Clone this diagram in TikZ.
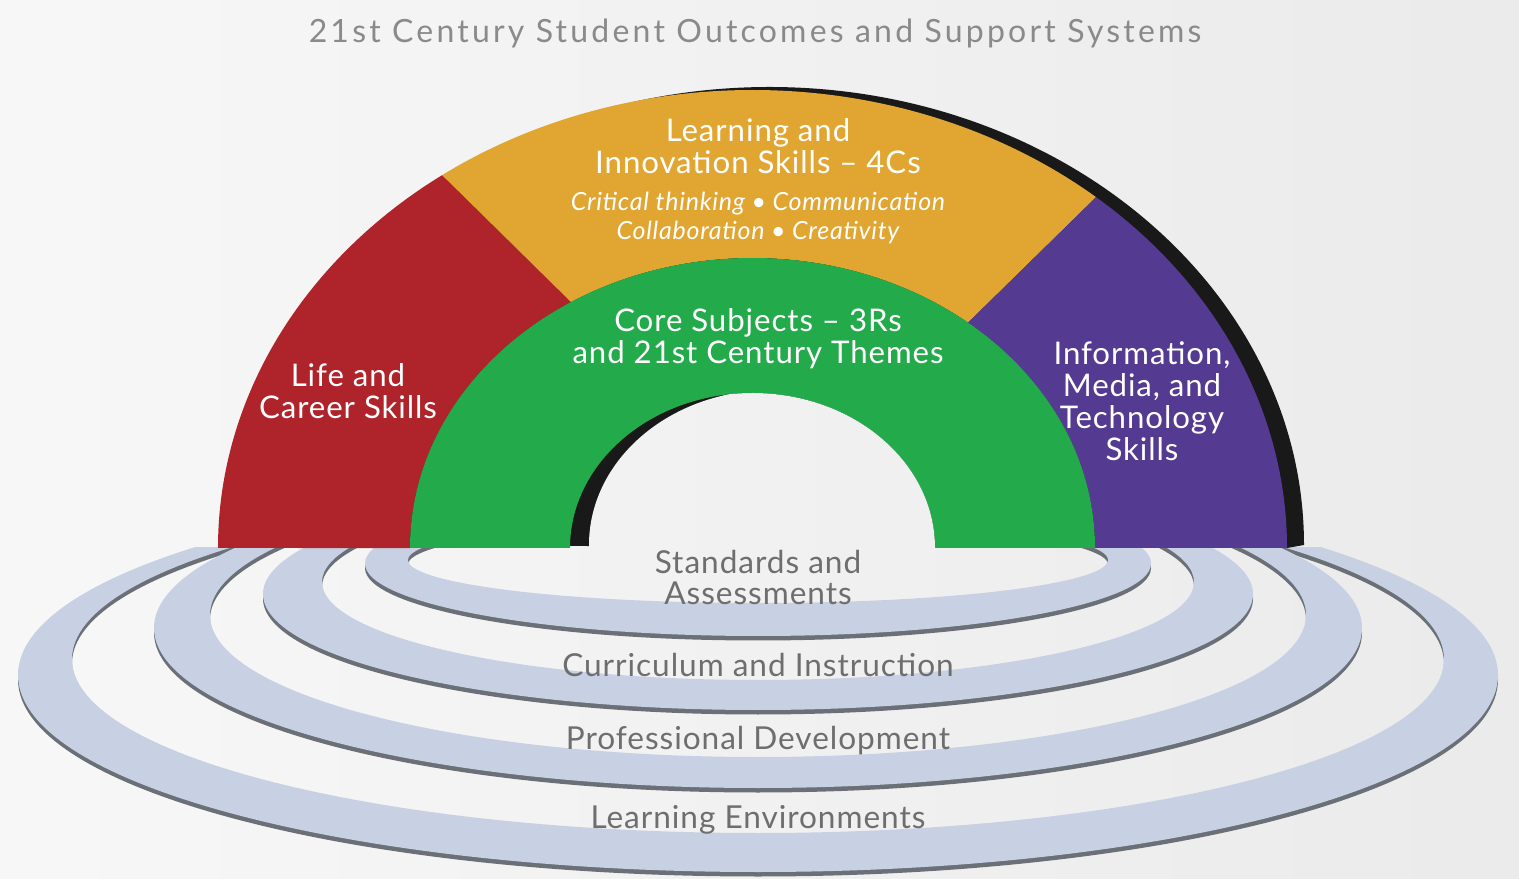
\documentclass[tikz,border=0pt]{standalone}
\usepackage{fontspec}
\setmainfont{Lato}[LetterSpace=3]
\usepackage{xcolor}

\definecolor{lifered}{HTML}{AF232A}
\definecolor{fourcgold}{HTML}{E1A632}
\definecolor{coregreen}{HTML}{23AA4B}
\definecolor{infopurple}{HTML}{543A91}
\definecolor{ringblue}{HTML}{C7D1E3}
\definecolor{ringedge}{HTML}{6B6F76}
\definecolor{labelgray}{HTML}{6E6E6E}
\definecolor{titlegray}{HTML}{8A8A8A}

\begin{document}
\begin{tikzpicture}[x=0.5pt, y=0.5pt,
    backdrop/.style={left color=white!97!black, right color=white!92!black},
    segtext/.style={text=white, align=center, font=\fontsize{15.6}{16}\selectfont},
    ringtext/.style={text=labelgray, align=center, font=\fontsize{15.8}{15.5}\selectfont}]
    \newcommand\outrx{534.5}
    \newcommand\outry{458}
    \newcommand\midrx{342.5}
    \newcommand\midry{290}
    \newcommand\holerx{182.5}
    \newcommand\holery{155}

    \useasboundingbox (0,0) rectangle (1519,878);
    \shade[backdrop] (0,0) rectangle (1519,878);

    % support rings
    \begin{scope}
        \clip (0,0) rectangle (1519,330);
        \foreach \oy/\orx/\ory/\iy/\irx/\iry in {203/740/197/219/686/174, 250/604/160/263/548/142, 284/495/116/296/436/98, 314.5/393/72.5/318/350/43} {
            \fill[ringedge, even odd rule] (758,\oy-4.5) ellipse [x radius=\orx, y radius=\ory] (758,\iy-4.5) ellipse [x radius=\irx, y radius=\iry];
            \fill[ringblue, even odd rule] (758,\oy) ellipse [x radius=\orx, y radius=\ory] (758,\iy) ellipse [x radius=\irx, y radius=\iry];
        }
    \end{scope}

    \coordinate (rgout) at (442.12,702.87);
    \coordinate (gpout) at (1096.07,680.85);
    \coordinate (rgin) at (571.0,575.93);
    \coordinate (gpin) at (968.04,555.37);

    % back face of the arch
    \fill[black!90] (1287,330) -- (1304,333) arc[start angle=0, end angle=180, x radius=\outrx, y radius=\outry] -- cycle;

    % arch
    \fill[lifered] (218,330) arc[start angle=180, end angle=125.5, x radius=\outrx, y radius=\outry] -- (rgin) arc[start angle=122, end angle=180, x radius=\midrx, y radius=\midry] -- cycle;
    \fill[fourcgold] (rgout) arc[start angle=125.5, end angle=50, x radius=\outrx, y radius=\outry] -- (gpin) arc[start angle=51, end angle=122, x radius=\midrx, y radius=\midry] -- cycle;
    \fill[infopurple] (gpout) arc[start angle=50, end angle=0, x radius=\outrx, y radius=\outry] -- (1095,330) arc[start angle=0, end angle=51, x radius=\midrx, y radius=\midry] -- cycle;
    \fill[coregreen] (410,330) arc[start angle=180, end angle=0, x radius=\midrx, y radius=\midry] -- (935,330) arc[start angle=0, end angle=180, x radius=\holerx, y radius=\holery] -- cycle;

    % see through the hole
    \begin{scope}
        \clip (935,330) arc[start angle=0, end angle=180, x radius=\holerx, y radius=\holery] -- cycle;
        \clip (954,333) arc[start angle=0, end angle=180, x radius=\holerx, y radius=\holery] -- (589,320) -- (954,320) -- cycle;
        \shade[backdrop] (0,0) rectangle (1519,878);
    \end{scope}

    \node[text=titlegray, font=\addfontfeature{LetterSpace=10}\fontsize{16}{18}\selectfont] (title) at (755,845) {21st Century Student Outcomes and Support Systems};

    \node[segtext] (learn) at (758,731.5) {Learning and\\Innovation Skills – 4Cs};
    \node[segtext, font=\itshape\fontsize{12.5}{14.5}\selectfont] (fourc) at (758,660.5) {Critical thinking • Communication\\Collaboration • Creativity};
    \node[segtext] (core) at (758,539) {Core Subjects – 3Rs\\and 21st Century Themes};
    \node[segtext] (life) at (348,486.5) {Life and\\Career Skills};
    \node[segtext] (info) at (1142,476.5) {Information,\\Media, and\\Technology\\Skills};

    \node[ringtext] (standards) at (758,300.5) {Standards and\\Assessments};
    \node[ringtext] (curriculum) at (758,213) {Curriculum and Instruction};
    \node[ringtext] (profdev) at (758,137) {Professional Development};
    \node[ringtext] (environ) at (758,58) {Learning Environments};
\end{tikzpicture}
\end{document}
